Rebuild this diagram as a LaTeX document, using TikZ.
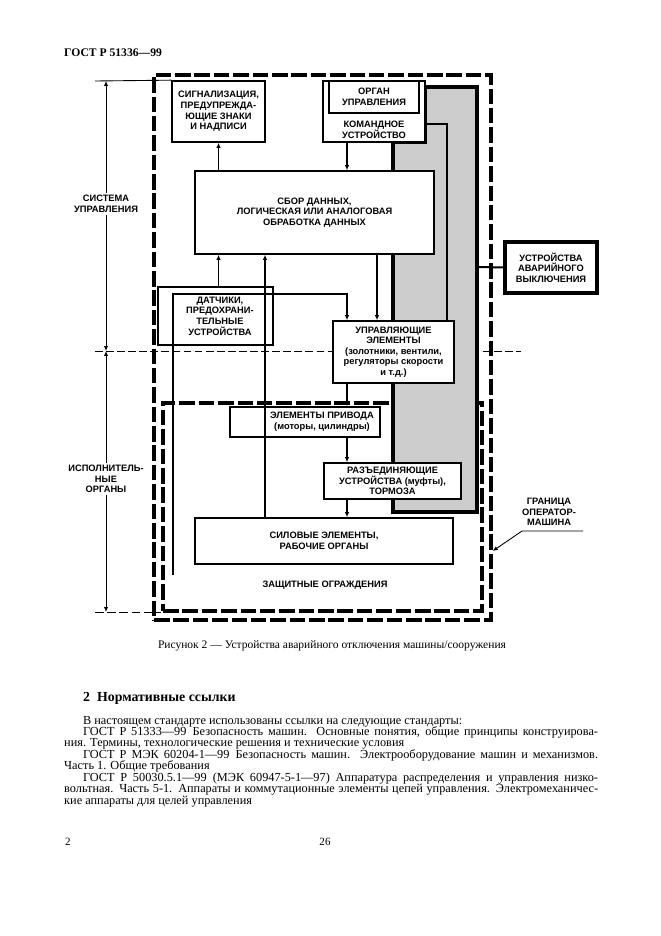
\documentclass[tikz,border=0pt]{standalone}
\usepackage{fontspec}
\setmainfont{Liberation Serif}
\newfontfamily\diagfont{Liberation Sans}
\usetikzlibrary{arrows.meta}
\newcommand{\pix}{0.3173mm}
\newcommand{\dg}{\diagfont\bfseries\fontsize{8.4}{9.6}\selectfont}
\colorlet{band}{black!20}

\begin{document}
\begin{tikzpicture}[x=\pix, y=-\pix, >={Latex[length=4.5pt,width=4pt]}]
		\tikzstyle{every edge}=[draw, line width=1.5pt]
		\tikzstyle{box}=[draw, line width=1.5pt, fill=white, inner sep=0pt, align=center, font=\dg]
		\tikzstyle{frame}=[draw, line width=3.2pt, dash pattern=on 14pt off 3.5pt, inner sep=0pt]
		\tikzstyle{dimline}=[line width=0.8pt]
		\tikzstyle{side}=[font=\dg, align=center, fill=white, inner sep=2pt]

		\path[use as bounding box, fill=white] (0,0) rectangle (661,936);

		\node (gost) at (64,56) [anchor=base west, inner sep=0pt, font=\bfseries\fontsize{10.5}{13}\selectfont] {ГОСТ Р 51336—99};

		% frames
		\node (vnesh) at (322.5,347.5) [frame, minimum width=337*\pix, minimum height=545*\pix] {};
		\node (ograzhd) at (322.5,507) [frame, minimum width=319*\pix, minimum height=208*\pix] {};

		\coordinate (gr1) at (95,351);
		\coordinate (gr2) at (521,351);
		\draw[dimline, dash pattern=on 7pt off 3pt] (gr1) -- (gr2);

		% emergency band
		\draw[line width=3pt, fill=band] (393,142) -- (393,512) -- (477,512) -- (477,87) -- (425,87) -- (425,142) -- cycle;
		\coordinate (polosa) at (477,267);

		\node (signal) at (218.5,111.5) [box, minimum width=93*\pix, minimum height=61*\pix] {СИГНАЛИЗАЦИЯ,\\ПРЕДУПРЕЖДА-\\ЮЩИЕ ЗНАКИ\\И НАДПИСИ};
		\node (komand) at (374,111.5) [box, minimum width=102*\pix, minimum height=61*\pix] {};
		\node (organ) at (374,97) [box, minimum width=90*\pix, minimum height=32*\pix] {ОРГАН\\УПРАВЛЕНИЯ};
		\node (komtext) at (374,130) [font=\dg, align=center, inner sep=0pt] {КОМАНДНОЕ\\УСТРОЙСТВО};
		\node (sbor) at (314.5,212.5) [box, minimum width=239*\pix, minimum height=83*\pix] {СБОР ДАННЫХ,\\ЛОГИЧЕСКАЯ ИЛИ АНАЛОГОВАЯ\\ОБРАБОТКА ДАННЫХ};
		\node (datch) at (215.5,316) [box, minimum width=115*\pix, minimum height=58*\pix] {\hspace*{2.8mm}ДАТЧИКИ,\\\hspace*{2.8mm}ПРЕДОХРАНИ-\\\hspace*{2.8mm}ТЕЛЬНЫЕ\\\hspace*{2.8mm}УСТРОЙСТВА};
		\node (upr) at (393.5,352) [box, minimum width=121*\pix, minimum height=62*\pix] {УПРАВЛЯЮЩИЕ\\ЭЛЕМЕНТЫ\\(золотники, вентили,\\регуляторы скорости\\и т.д.)};
		\node (privod) at (305,422) [box, minimum width=150*\pix, minimum height=30*\pix] {\hspace*{10.8mm}ЭЛЕМЕНТЫ ПРИВОДА\\\hspace*{10.8mm}(моторы, цилиндры)};
		\node (razed) at (392.5,481) [box, minimum width=137*\pix, minimum height=36*\pix] {РАЗЪЕДИНЯЮЩИЕ\\УСТРОЙСТВА (муфты),\\ТОРМОЗА};
		\node (silov) at (324,541) [box, minimum width=258*\pix, minimum height=46*\pix] {СИЛОВЫЕ ЭЛЕМЕНТЫ,\\РАБОЧИЕ ОРГАНЫ};
		\node (zashch) at (325,585) [font=\dg] {ЗАЩИТНЫЕ ОГРАЖДЕНИЯ};
		\node (avar) at (551,267.5) [box, line width=3pt, minimum width=92*\pix, minimum height=51*\pix] {УСТРОЙСТВА\\АВАРИЙНОГО\\ВЫКЛЮЧЕНИЯ};
		\node (granica) at (549,512) [font=\dg, align=center, inner sep=0pt] {ГРАНИЦА\\ОПЕРАТОР-\\МАШИНА};

		% dimension on the left
		\coordinate (dim1) at (106,81);
		\coordinate (dim2) at (106,351);
		\coordinate (dim3) at (106,612);
		\coordinate (vyn1) at (95,81);
		\coordinate (vyn3) at (95,612);
		\node (sistema) at (106,204) [side] {СИСТЕМА\\УПРАВЛЕНИЯ};
		\node (ispoln) at (106,479) [side] {ИСПОЛНИТЕЛЬ-\\НЫЕ\\ОРГАНЫ};
		\path [->] (sistema) edge[dimline] (dim1) edge[dimline] (dim2);
		\path [->] (ispoln) edge[dimline] (dim2) edge[dimline] (dim3);
		\draw[dimline] (vyn1) -- (signal.north west);
		\draw[dimline, dash pattern=on 8pt off 3pt] (vyn3) -- (vyn3 -| ograzhd.west);

		% connectors
		\coordinate (x265) at (265,0);
		\coordinate (x377) at (377,0);
		\coordinate (k347) at (347,294);
		\coordinate (x447) at (447,124);
		\coordinate (ogr) at (173,575);
		\path [->] (sbor.north -| signal.south) edge (signal.south);
		\path [->] (komand.south -| k347) edge (sbor.north -| k347);
		\path [->] (sbor.south -| x377) edge (upr.north -| x377);
		\path [->] (datch.north -| signal.south) edge (sbor.south -| signal.south);
		\path [->] (silov.north -| x265) edge (sbor.south -| x265);
		\draw [line width=1.5pt, ->] (ogr) |- (k347) -- (upr.north -| k347);
		\path [->] (upr.south -| k347) edge (privod.north -| k347);
		\path [->] (privod.south -| k347) edge (razed.north -| k347);
		\path [->] (razed.south -| k347) edge (silov.north -| k347);
		\draw [line width=1.5pt] (komand.east |- x447) -- (x447) -- (upr.north -| x447);
		\draw [line width=1.8pt] (polosa) -- (avar.west);

		\coordinate (cherta) at (583,531);
		\coordinate (izlom) at (522,531);
		\draw [dimline, ->] (cherta) -- (izlom) -- (vnesh.east |- 0,551);

		% page text
		\node (podpis) at (332,648) [anchor=base, inner sep=0pt, font=\fontsize{10.4}{12}\selectfont] {Рисунок 2 — Устройства аварийного отключения машины/сооружения};
		\node (razdel) at (83,701) [anchor=base west, inner sep=0pt, font=\bfseries\fontsize{12.5}{14}\selectfont] {2\enspace Нормативные ссылки};
		\node (tekst) at (64,724) [anchor=base west, inner sep=0pt, font=\fontsize{11.1}{10.35}\selectfont] {\parbox[t]{169.4mm}{\parindent=6mm \hyphenpenalty=10000 \emergencystretch=2em
			В настоящем стандарте использованы ссылки на следующие стандарты:\par
			ГОСТ Р 51333—99\enspace Безопасность машин. Основные понятия, общие принципы конструирова-\linebreak ния. Термины, технологические решения и технические условия\par
			ГОСТ Р МЭК 60204-1—99\enspace Безопасность машин. Электрооборудование машин и механизмов.\linebreak Часть 1. Общие требования\par
			ГОСТ Р 50030.5.1—99\enspace (МЭК 60947-5-1—97) Аппаратура распределения и управления низко-\linebreak вольтная. Часть 5-1. Аппараты и коммутационные элементы цепей управления. Электромеханичес-\linebreak кие аппараты для целей управления}};
		\node (str1) at (65,845) [anchor=base west, inner sep=0pt, font=\fontsize{10}{12}\selectfont] {2};
		\node (str2) at (325,845) [anchor=base, inner sep=0pt, font=\fontsize{10}{12}\selectfont] {26};
	\end{tikzpicture}
\end{document}
